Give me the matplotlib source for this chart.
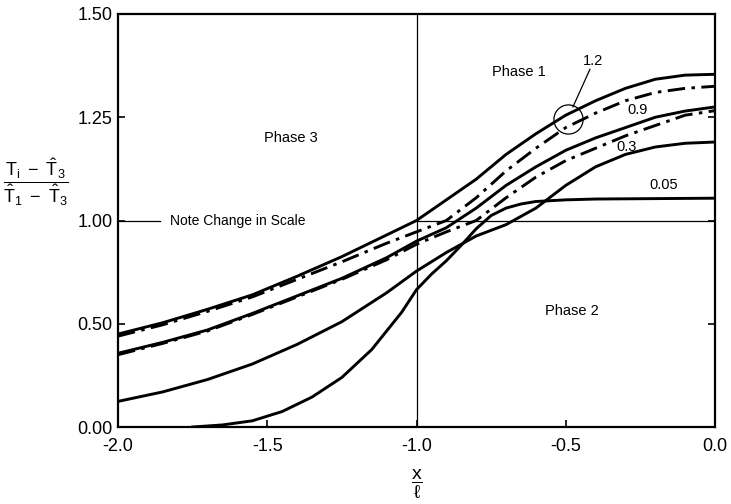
import numpy as np
import matplotlib
matplotlib.use('Agg')
import matplotlib.pyplot as plt
from matplotlib.ticker import FixedLocator

### DATA ###
# x / l positions
X_GRID = [-2.0, -1.85, -1.7, -1.55, -1.4, -1.25, -1.1, -1.0, -0.9, -0.8,
          -0.7, -0.6, -0.5, -0.4, -0.3, -0.2, -0.1, 0.0]

# Solid curves
SOLID_12 = [0.45, 0.505, 0.57, 0.64, 0.73, 0.825, 0.93, 1.00, 1.05, 1.10,
            1.16, 1.21, 1.255, 1.29, 1.32, 1.342, 1.352, 1.354]
SOLID_09 = [0.357, 0.41, 0.47, 0.55, 0.635, 0.72, 0.82, 0.90, 0.965, 1.03,
            1.085, 1.13, 1.17, 1.20, 1.225, 1.25, 1.265, 1.275]
SOLID_03 = [0.124, 0.17, 0.23, 0.305, 0.40, 0.51, 0.65, 0.755, 0.845, 0.925,
            0.98, 1.03, 1.085, 1.13, 1.16, 1.178, 1.187, 1.19]

# Dash-dot curves
DASH_12 = [0.44, 0.495, 0.56, 0.63, 0.715, 0.80, 0.89, 0.945, 1.0, 1.055,
           1.12, 1.175, 1.225, 1.26, 1.29, 1.31, 1.32, 1.325]
DASH_09 = [0.35, 0.405, 0.465, 0.545, 0.63, 0.715, 0.81, 0.885, 0.945, 1.0,
           1.055, 1.105, 1.145, 1.175, 1.205, 1.23, 1.255, 1.266]

# 0.05 curve starts later
X_005 = [-1.75, -1.65, -1.55, -1.45, -1.35, -1.25, -1.15, -1.05, -1.0, -0.95,
         -0.9, -0.85, -0.8, -0.75, -0.7, -0.65, -0.6, -0.5, -0.4, -0.2, 0.0]
SOLID_005 = [0.0, 0.01, 0.03, 0.075, 0.145, 0.24, 0.375, 0.555, 0.665, 0.74,
             0.805, 0.88, 0.96, 1.012, 1.03, 1.04, 1.046, 1.05, 1.052, 1.053, 1.054]

Y_TICKS = [0.0, 0.5, 1.0, 1.25, 1.5]
Y_TICK_LABELS = ['0.00', '0.50', '1.00', '1.25', '1.50']
X_TICKS = [-2.0, -1.5, -1.0, -0.5, 0.0]
X_TICK_LABELS = ['-2.0', '-1.5', '-1.0', '-0.5', '0.0']

CURVE_LABELS = ['1.2', '0.9', '0.3', '0.05']
CURVE_LABEL_POS = [(-0.41, 1.385), (-0.258, 1.267), (-0.296, 1.178), (-0.173, 1.085)]

### CONFIGURATION ###
SCALE_FACTOR = 2.0   # scale above 1.00 is stretched
LW = 2.1

plt.rcParams['font.family'] = ['Liberation Sans', 'DejaVu Sans']
plt.rcParams['mathtext.fontset'] = 'custom'
plt.rcParams['mathtext.rm'] = 'Liberation Sans'
plt.rcParams['mathtext.it'] = 'Liberation Sans:italic'
plt.rcParams['mathtext.default'] = 'regular'


# Piecewise linear y-scale (note change in scale at 1.00)
def fwd(y):
    y = np.asarray(y, dtype=float)
    return np.where(y <= 1.0, y, 1.0 + SCALE_FACTOR * (y - 1.0))


def inv(v):
    v = np.asarray(v, dtype=float)
    return np.where(v <= 1.0, v, 1.0 + (v - 1.0) / SCALE_FACTOR)


def main():
    fig = plt.figure(figsize=(7.31, 5.04), dpi=100)
    ax = fig.add_axes([118 / 731, 1 - 427 / 504, (715 - 118) / 731, (427 - 14) / 504])
    ax.set_yscale('function', functions=(fwd, inv))

    # Curves
    ax.plot(X_GRID, SOLID_12, color='black', lw=LW)
    ax.plot(X_GRID, SOLID_09, color='black', lw=LW)
    ax.plot(X_GRID, SOLID_03, color='black', lw=LW)
    ax.plot(X_005, SOLID_005, color='black', lw=LW)
    ax.plot(X_GRID, DASH_12, color='black', lw=LW, ls=(0, (6, 2.2, 1.2, 2.2)))
    ax.plot(X_GRID, DASH_09, color='black', lw=LW, ls=(0, (6, 2.2, 1.2, 2.2)))

    # Reference lines
    ax.axvline(-1.0, color='black', lw=0.9)
    ax.plot([-1.0, 0.0], [1.0, 1.0], color='black', lw=0.9)
    ax.plot([-2.0, -1.86], [1.0, 1.0], color='black', lw=0.9)
    ax.text(-1.826, 1.0, 'Note Change in Scale', fontsize=10, va='center', ha='left')

    # Phase labels
    ax.text(-0.656, 1.359, 'Phase 1', fontsize=10.5, ha='center', va='center')
    ax.text(-0.48, 0.564, 'Phase 2', fontsize=10.5, ha='center', va='center')
    ax.text(-1.42, 1.20, 'Phase 3', fontsize=10.5, ha='center', va='center')

    # Curve labels
    for label, (lx, ly) in zip(CURVE_LABELS, CURVE_LABEL_POS):
        ax.text(lx, ly, label, fontsize=10.5, ha='center', va='center')
    ax.plot([-0.419, -0.476], [1.366, 1.275], color='black', lw=0.9)
    ax.plot([-0.492], [1.246], marker='o', ms=21, mfc='none', mec='black', mew=0.9)

    # Axes
    ax.set_xlim(-2.0, 0.0)
    ax.set_ylim(0.0, 1.5)
    ax.xaxis.set_major_locator(FixedLocator(X_TICKS))
    ax.set_xticklabels(X_TICK_LABELS)
    ax.yaxis.set_major_locator(FixedLocator(Y_TICKS))
    ax.set_yticklabels(Y_TICK_LABELS)
    ax.yaxis.set_minor_locator(FixedLocator([]))
    ax.tick_params(direction='in', length=5, width=1.2, labelsize=13, right=True)
    ax.tick_params(axis='x', pad=8)
    ax.tick_params(axis='y', pad=4)
    for sp in ax.spines.values():
        sp.set_linewidth(1.6)

    ax.set_xlabel(r'$\dfrac{x}{\ell}$', fontsize=14, labelpad=9)
    fig.text(36 / 731, 1 - 182 / 504,
             r'$\dfrac{T_i\ -\ \hat{T}_3}{\hat{T}_1\ -\ \hat{T}_3}$',
             fontsize=13, ha='center', va='center')

    fig.savefig('out.png', dpi=100)


if __name__ == '__main__':
    main()
